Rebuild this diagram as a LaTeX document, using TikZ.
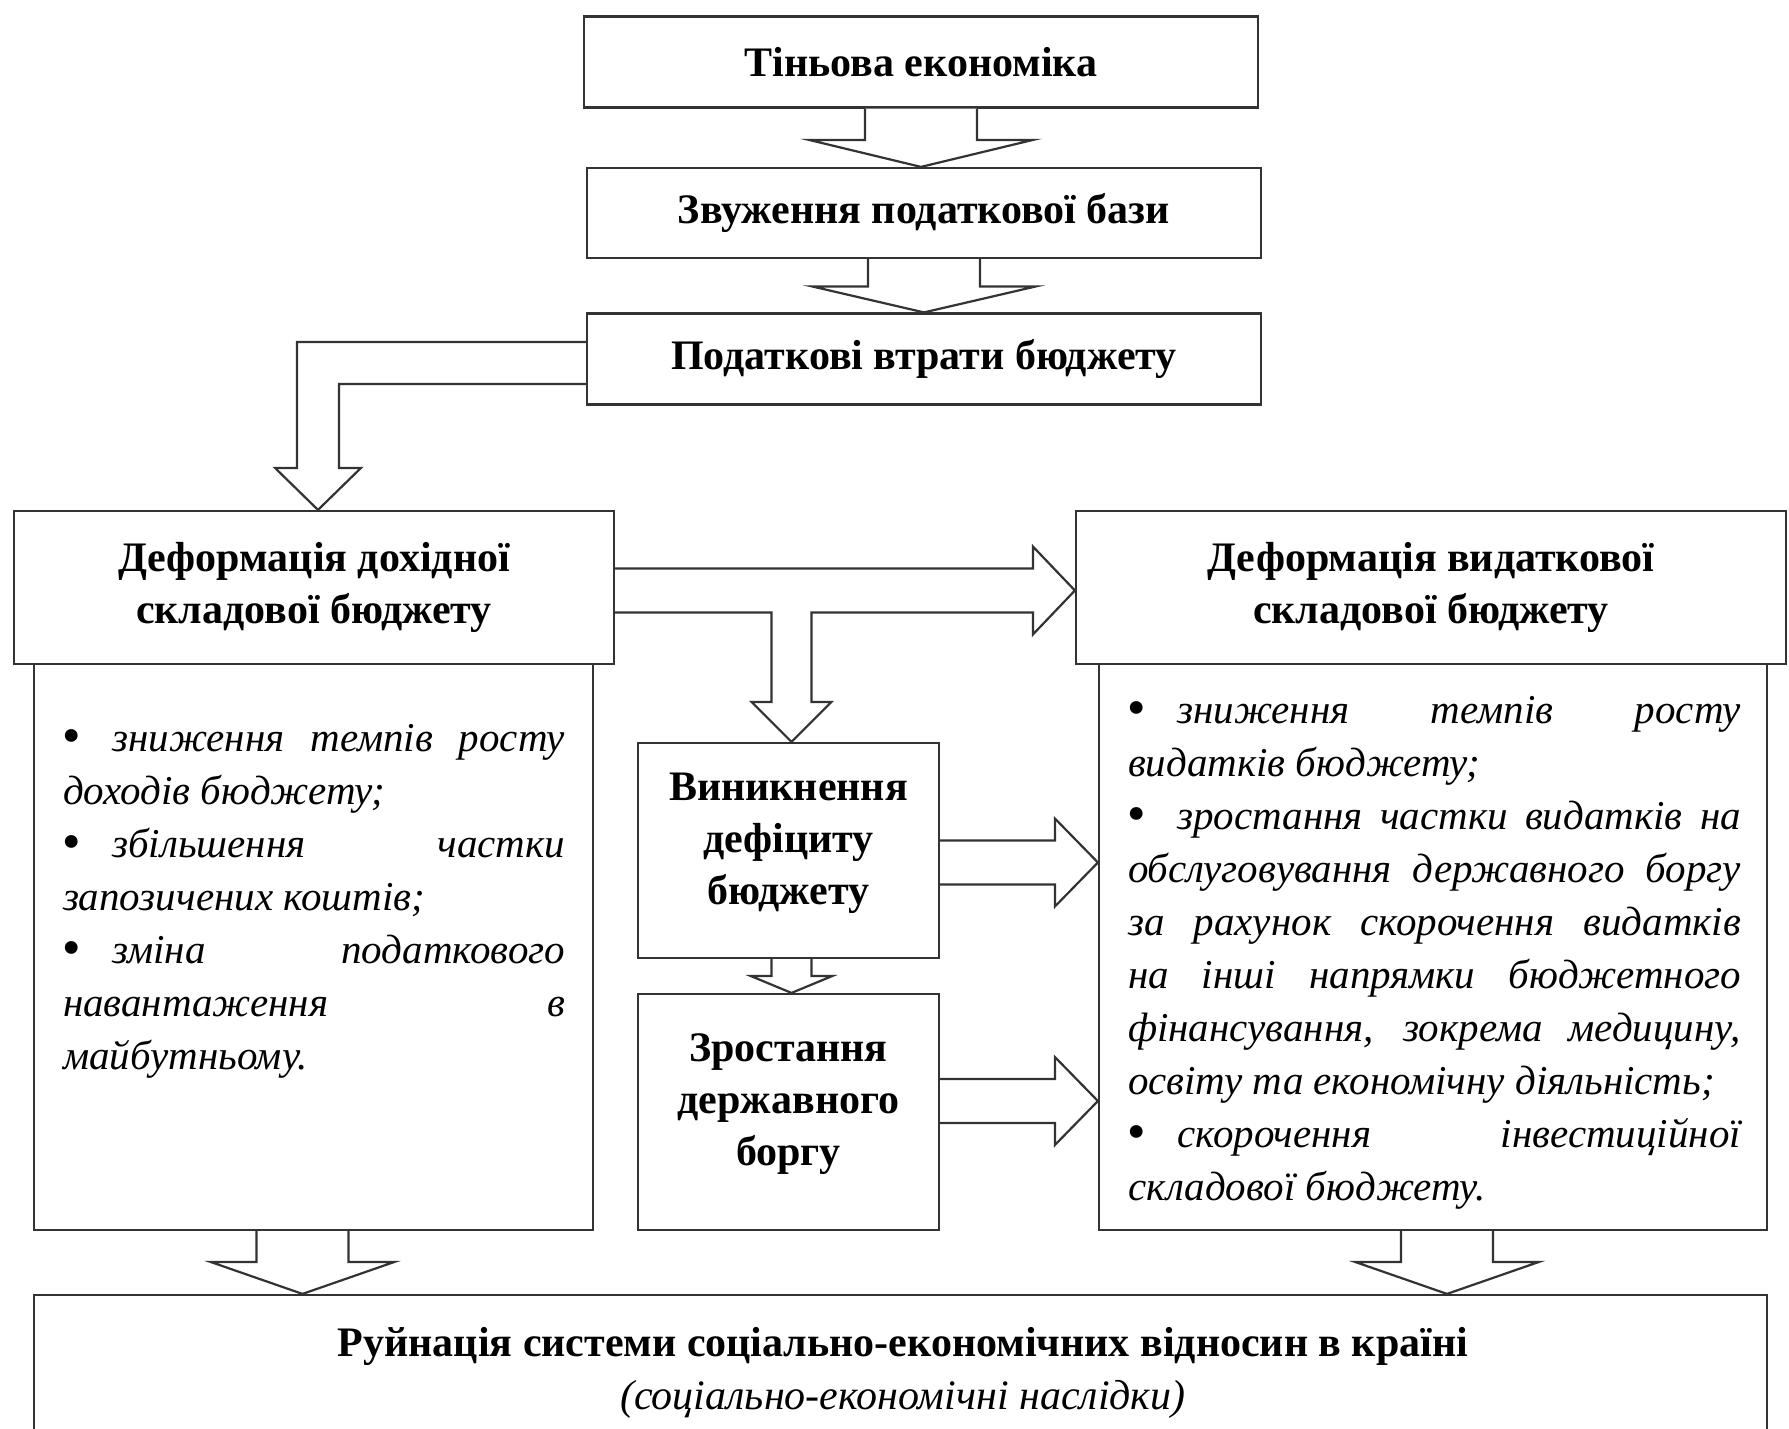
\documentclass[tikz,border=0pt]{standalone}
\usepackage{fontspec}
\setmainfont{Liberation Serif}
\usetikzlibrary{positioning, calc}

\newcommand\bul{{\fontsize{47}{53}\selectfont\upshape\bfseries\textbullet}\hspace{0.8em}}
\newcommand\jline[1]{\makebox[\hsize][s]{#1}\par}
\newcommand\downblock[5]{\draw[blockarrow] ($(#1)+(-#3,0)$) -- ($(#1 |- #2)+(-#3,#5)$) -- ($(#1 |- #2)+(-#4,#5)$) -- (#1 |- #2) -- ($(#1 |- #2)+(#4,#5)$) -- ($(#1 |- #2)+(#3,#5)$) -- ($(#1)+(#3,0)$);}
\newcommand\rightblock[5]{\draw[blockarrow] ($(#1)+(0,#3)$) -- ($(#1 -| #2)+(-#5,#3)$) -- ($(#1 -| #2)+(-#5,#4)$) -- (#1 -| #2) -- ($(#1 -| #2)+(-#5,-#4)$) -- ($(#1 -| #2)+(-#5,-#3)$) -- ($(#1)+(0,-#3)$);}

\tikzset{
    headbox/.style={draw=black!80, line width=2.2pt, fill=white, inner sep=0pt, align=center, font=\fontsize{42}{52}\selectfont\bfseries},
    boxtext/.style={inner sep=0pt, align=center, font=\fontsize{42}{52}\selectfont\bfseries},
    bodybox/.style={draw=black!80, line width=2.2pt, fill=white, inner sep=0pt},
    bodytext/.style={inner sep=0pt, anchor=north, font=\fontsize{41}{53}\selectfont\itshape},
    blockarrow/.style={draw=black!80, line width=2.2pt, fill=white, line join=miter},
}

\begin{document}
\begin{tikzpicture}[x=1pt, y=1pt]
\useasboundingbox (0,0) rectangle (1789,-1428);

\node[headbox, minimum width=674, minimum height=91] (shadow) at (921,-62) {Тіньова економіка};
\node[headbox, minimum width=674, minimum height=90] (taxbase) at (924,-213) {Звуження податкової бази};
\node[headbox, minimum width=674, minimum height=91] (taxloss) at (924,-359) {Податкові втрати бюджету};

\node[headbox, minimum width=600, minimum height=153] (income) at (314,-587.5) {Деформація дохідної\\складової бюджету};
\node[headbox, minimum width=710, minimum height=153] (spend) at (1431,-587.5) {Деформація видаткової\\складової бюджету};

\node[bodybox, minimum width=559, minimum height=566] (incbody) at (313.5,-947) {};
\node[bodybox, minimum width=668, minimum height=566] (spendbody) at (1433,-947) {};

\node[bodybox, minimum width=301, minimum height=215] (deficit) at (788.5,-850.5) {};
\node[boxtext] (deficittext) at ($(deficit)+(0,7)$) {Виникнення\\дефіциту\\бюджету};
\node[bodybox, minimum width=301, minimum height=236] (debt) at (788.5,-1112) {};
\node[boxtext] (debttext) at ($(debt)+(0,8)$) {Зростання\\державного\\боргу};

\node[bodybox, minimum width=1733, minimum height=170] (result) at (900.5,-1380) {};
\node[align=center, inner sep=0pt, font=\fontsize{42}{53}\selectfont] (resulttext) at (903,-1373)
    {{\bfseries Руйнація системи соціально-економічних відносин в країні}\\{\itshape (соціально-економічні наслідки)}};

\node[bodytext, text width=502] (inctext) at ($(incbody.north)+(0.5,-61)$) {\spaceskip=0pt \xspaceskip=0pt\relax
\jline{\bul зниження темпів росту}
доходів бюджету;\par
\jline{\bul збільшення частки}
запозичених коштів;\par
\jline{\bul зміна податкового}
\jline{навантаження в}
майбутньому.};

\node[bodytext, text width=613] (spendtext) at ($(spendbody.north)+(1.5,-33)$) {\spaceskip=0pt \xspaceskip=0pt\relax
\jline{\bul зниження темпів росту}
видатків бюджету;\par
\jline{\bul зростання частки видатків на}
\jline{обслуговування державного боргу}
\jline{за рахунок скорочення видатків}
\jline{на інші напрямки бюджетного}
\jline{фінансування, зокрема медицину,}
освіту та економічну діяльність;\par
\jline{\bul скорочення інвестиційної}
складової бюджету.};

\downblock{shadow.south}{taxbase.north}{56}{112}{27}
\downblock{taxbase.south}{taxloss.north}{56}{112}{26}

\coordinate (bA) at ($(taxloss.west)+(0,-4)$);
\coordinate (bT) at ($(income.north)+(4,0)$);
\draw[blockarrow] ($(bA)+(0,21)$) -- ($(bT |- bA)+(-21,21)$) -- ($(bT)+(-21,42)$) -- ($(bT)+(-43,42)$) -- (bT)
    -- ($(bT)+(43,42)$) -- ($(bT)+(21,42)$) -- ($(bT |- bA)+(21,-21)$) -- ($(bA)+(0,-21)$);

\coordinate (hA) at ($(income.east)+(0,-3)$);
\coordinate (hT) at (spend.west |- hA);
\coordinate (dT) at ($(deficit.north)+(3,0)$);
\draw[blockarrow] ($(hA)+(0,22)$) -- ($(hT)+(-42,22)$) -- ($(hT)+(-42,44)$) -- (hT) -- ($(hT)+(-42,-44)$) -- ($(hT)+(-42,-22)$)
    -- ($(dT |- hA)+(20,-22)$) -- ($(dT)+(20,40)$) -- ($(dT)+(40,40)$) -- (dT) -- ($(dT)+(-40,40)$) -- ($(dT)+(-20,40)$)
    -- ($(dT |- hA)+(-20,-22)$) -- ($(hA)+(0,-22)$);

\coordinate (defsrc) at ($(deficit.south)+(3,0)$);
\downblock{defsrc}{debt.north}{20}{41}{17}

\coordinate (defout) at ($(deficit.east)+(0,-12)$);
\coordinate (debtout) at ($(debt.east)+(0,11)$);
\rightblock{defout}{spendbody.west}{22}{44}{43}
\rightblock{debtout}{spendbody.west}{22}{44}{43}

\coordinate (lsrc) at ($(incbody.south)+(-11,0)$);
\coordinate (rsrc) at ($(spendbody.south)+(14,0)$);
\downblock{lsrc}{result.north}{46}{92}{32}
\downblock{rsrc}{result.north}{46}{92}{32}
\end{tikzpicture}
\end{document}
